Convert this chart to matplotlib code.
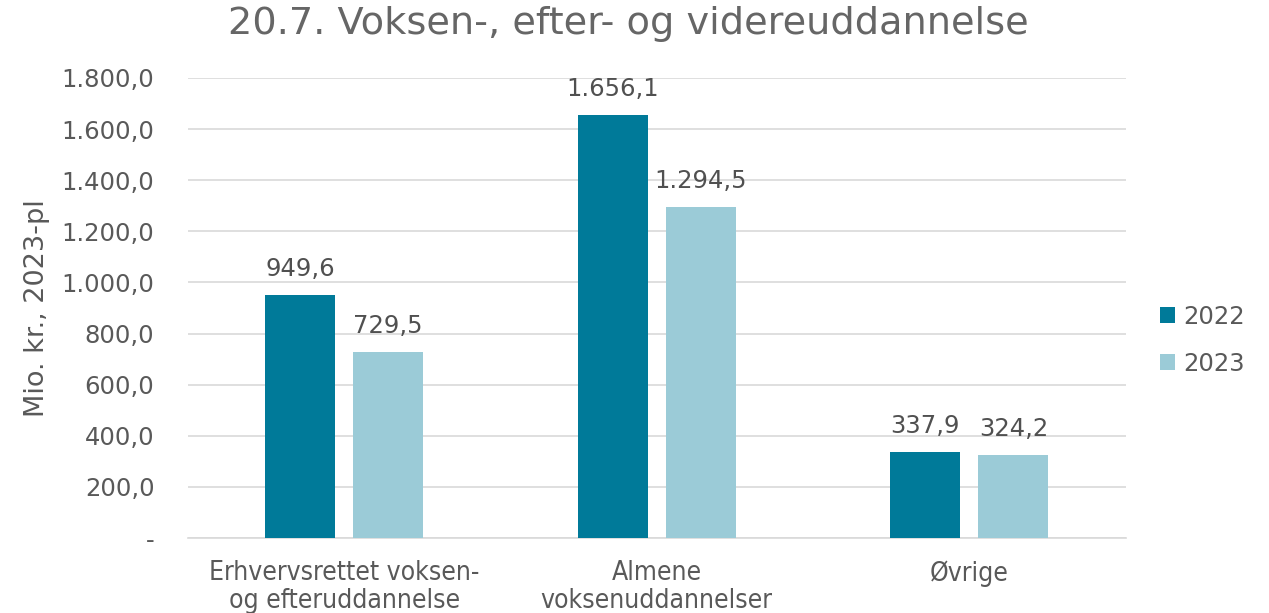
import matplotlib
matplotlib.use("Agg")
import matplotlib.pyplot as plt
import numpy as np

categories = ["Erhvervsrettet voksen-\nog efteruddannelse", "Almene\nvoksenuddannelser", "Øvrige"]
years = ["2022", "2023"]
values_2022 = [949.6, 1656.1, 337.9]
values_2023 = [729.5, 1294.5, 324.2]
yticks = [0, 200, 400, 600, 800, 1000, 1200, 1400, 1600, 1800]

dark = "#007A99"
light = "#9BCBD7"
grey = "#595959"


def fmt(v, dec=1):
    # danish number format: 1.656,1
    s = "{:,.{}f}".format(v, dec)
    return s.replace(",", "X").replace(".", ",").replace("X", ".")


fig = plt.figure(figsize=(12.69, 6.13), dpi=100)
ax = fig.add_axes([0.148, 0.1223, 0.739, 0.7505])

x = np.arange(len(categories))
w = 0.224
off = 0.141
b1 = ax.bar(x - off, values_2022, w, color=dark, label=years[0], zorder=3)
b2 = ax.bar(x + off, values_2023, w, color=light, label=years[1], zorder=3)

for bars, vals in ((b1, values_2022), (b2, values_2023)):
    for r, v in zip(bars, vals):
        ax.annotate(fmt(v), (r.get_x() + r.get_width() / 2, v), xytext=(0, 10),
                    textcoords="offset points", ha="center", va="bottom",
                    fontsize=17.5, color="#505050")

ax.set_xlim(-0.5, 2.5)
ax.set_ylim(0, 1800)
ax.set_yticks(yticks)
ax.set_yticklabels(["-"] + [fmt(t) for t in yticks[1:]])
ax.set_xticks(x)
ax.set_xticklabels(categories, fontsize=19, color=grey, fontstretch="condensed",
                   linespacing=1.1)
ax.tick_params(axis="y", labelsize=17.5, labelcolor=grey, length=0, pad=24)
ax.tick_params(axis="x", length=0, pad=16)
ax.grid(axis="y", color="#d9d9d9", linewidth=1.2, zorder=0)
for s in ["top", "right", "left"]:
    ax.spines[s].set_visible(False)
ax.spines["bottom"].set_color("#d9d9d9")
ax.spines["bottom"].set_linewidth(1.2)

ax.set_ylabel("Mio. kr., 2023-pl", fontsize=19.5, color=grey, labelpad=8)
fig.suptitle("20.7. Voksen-, efter- og videreuddannelse", fontsize=27.5, color="#666666",
             x=0.495, y=0.99, va="top")

ax.legend(loc="center left", bbox_to_anchor=(1.013, 0.43), frameon=False,
          fontsize=17.5, labelcolor=grey, handlelength=0.65, handleheight=0.65,
          handletextpad=0.3, labelspacing=0.95)

fig.savefig("out.png", dpi=100)
